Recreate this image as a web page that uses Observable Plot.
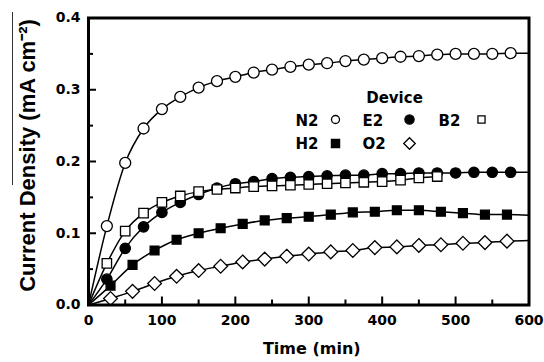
<!DOCTYPE html>
<html><head><meta charset="utf-8">
<script src="https://cdn.jsdelivr.net/npm/d3@7"></script>
<script src="https://cdn.jsdelivr.net/npm/@observablehq/plot@0.6"></script>
<style>
body{margin:0;background:#fff;}
#wrap{position:relative;width:544px;height:362px;}
#overline{position:absolute;left:12px;top:12px;width:1.3px;height:173px;background:#333;}
</style></head><body><div id="wrap"><div id="overline"></div></div>
<script>
// ---- data ----
const timeA = [25,50,75,100,125,150,175,200,225,250,275,300,325,350,375,400,425,450,475,500,525,550,575];
const timeB = [30,60,90,120,150,180,210,240,270,300,330,360,390,420,450,480,510,540,570];
const N2 = [0.110,0.198,0.246,0.273,0.290,0.303,0.312,0.318,0.324,0.328,0.332,0.335,0.337,0.340,0.342,0.344,0.346,0.347,0.349,0.350,0.350,0.350,0.351];
const E2 = [0.036,0.079,0.109,0.129,0.143,0.154,0.163,0.169,0.172,0.176,0.178,0.179,0.180,0.181,0.181,0.183,0.183,0.184,0.184,0.184,0.185,0.185,0.185];
const B2 = [0.058,0.103,0.128,0.143,0.152,0.158,0.161,0.163,0.165,0.166,0.167,0.168,0.169,0.170,0.171,0.172,0.174,0.177,0.179];
const H2 = [0.027,0.056,0.076,0.091,0.100,0.107,0.113,0.118,0.121,0.123,0.126,0.129,0.130,0.132,0.132,0.130,0.128,0.126,0.126];
const O2 = [0.009,0.019,0.030,0.040,0.048,0.054,0.060,0.064,0.068,0.071,0.074,0.076,0.080,0.081,0.083,0.084,0.086,0.087,0.089];
// where each fitted line ends at the right edge (t = 600); B2 line stops at its last point
const lineEnd = {N2: 0.351, E2: 0.185, H2: 0.125, O2: 0.090};
const seriesNames = ["N2","E2","B2","H2","O2"];
const xTicks = [0,100,200,300,400,500,600];
const xMinor = [50,150,250,350,450,550];
const yTicks = [0.0,0.1,0.2,0.3,0.4];
const yMinor = [0.05,0.15,0.25,0.35];
const xTitle = "Time (min)";
const yTitle = "Current Density (mA cm\u207B\u00B2)";
const legendTitle = "Device";

// ---- build tables ----
const raw = {N2, E2, B2, H2, O2};
const times = {N2: timeA, E2: timeA, B2: timeA, H2: timeB, O2: timeB};
const points = seriesNames.flatMap(s => raw[s].map((v, i) => ({s, t: times[s][i], v})));
const lines = seriesNames.flatMap(s => {
  const pts = [{s, t: 0, v: 0}, ...raw[s].map((v, i) => ({s, t: times[s][i], v}))];
  if (lineEnd[s] !== undefined) pts.push({s, t: 600, v: lineEnd[s]});
  return pts;
});

const style = {
  N2: {symbol: "circle", fill: "white", r: 5.5},
  E2: {symbol: "circle", fill: "black", r: 5.2},
  B2: {symbol: "square", fill: "white", r: 5.3},
  H2: {symbol: "square", fill: "black", r: 5.0},
  O2: {symbol: "diamond2", fill: "white", r: 6.2}
};
const legendStyle = {
  N2: {symbol: "circle", fill: "white", r: 4},
  E2: {symbol: "circle", fill: "black", r: 4.6},
  B2: {symbol: "square", fill: "white", r: 4},
  H2: {symbol: "square", fill: "black", r: 4.6},
  O2: {symbol: "diamond2", fill: "white", r: 5.2}
};
// legend layout (pixel offsets from the frame's top-left corner)
const colText = [207, 274, 350], colSym = [247, 321, 393];
const rowText = [103.5, 126.5], rowSym = [101.5, 125.5];
const legendPos = {N2: [0,0], E2: [1,0], B2: [2,0], H2: [0,1], O2: [1,1]};

const legendMarks = seriesNames.flatMap(s => {
  const [c, r] = legendPos[s];
  const ls = legendStyle[s];
  return [
    Plot.text([s], {frameAnchor: "top-left", text: d => d, dx: colText[c], dy: rowText[r], textAnchor: "start", lineAnchor: "middle", fontSize: 15, fill: "black"}),
    Plot.dot([s], {frameAnchor: "top-left", dx: colSym[c], dy: rowSym[r], symbol: ls.symbol, r: ls.r, fill: ls.fill, stroke: "black", strokeWidth: 1.3})
  ];
});

const seriesMarks = seriesNames.map(s =>
  Plot.line(lines.filter(d => d.s === s), {x: "t", y: "v", curve: "monotone-x", stroke: "black", strokeWidth: 1.5})
).concat(seriesNames.map(s =>
  Plot.dot(points.filter(d => d.s === s), {x: "t", y: "v", symbol: style[s].symbol, r: style[s].r, fill: style[s].fill, stroke: "black", strokeWidth: 1.3})
));

const chart = Plot.plot({
  width: 544,
  height: 362,
  marginLeft: 88,
  marginRight: 15.5,
  marginTop: 17.5,
  marginBottom: 57.5,
  style: {background: "white", color: "black", overflow: "visible", fontFamily: "'DejaVu Sans', sans-serif", fontWeight: "bold"},
  x: {domain: [0, 600], axis: null},
  y: {domain: [0, 0.4], axis: null},
  marks: [
    ...seriesMarks,
    Plot.axisX(xTicks, {tickSize: -8, fill: "none", strokeWidth: 2, label: null}),
    Plot.axisX(xMinor, {tickSize: -5, fill: "none", strokeWidth: 2, label: null}),
    Plot.axisX(xTicks, {tickSize: 0, tickPadding: 10, fontSize: 14, tickFormat: d => String(d), label: null}),
    Plot.axisY(yTicks, {tickSize: -8, fill: "none", strokeWidth: 2, label: null}),
    Plot.axisY(yMinor, {tickSize: -5, fill: "none", strokeWidth: 2, label: null}),
    Plot.axisY(yTicks, {tickSize: 0, tickPadding: 8, fontSize: 14, tickFormat: d => d.toFixed(1), label: null}),
    Plot.frame({stroke: "black", strokeWidth: 3}),
    Plot.text([legendTitle], {frameAnchor: "top-left", text: d => d, dx: 306, dy: 80.5, textAnchor: "middle", lineAnchor: "middle", fontSize: 15}),
    ...legendMarks,
    Plot.text([xTitle], {frameAnchor: "bottom", text: d => d, dx: 3, dy: 43.5, textAnchor: "middle", lineAnchor: "middle", fontSize: 16}),
    Plot.text([yTitle], {frameAnchor: "left", text: d => d, dx: -61, dy: -6, rotate: -90, textAnchor: "middle", lineAnchor: "middle", fontSize: 22, fontFamily: "'Liberation Sans', Arial, sans-serif", fontWeight: "bold"})
  ]
});
document.getElementById("wrap").appendChild(chart);
</script>
</body></html>
